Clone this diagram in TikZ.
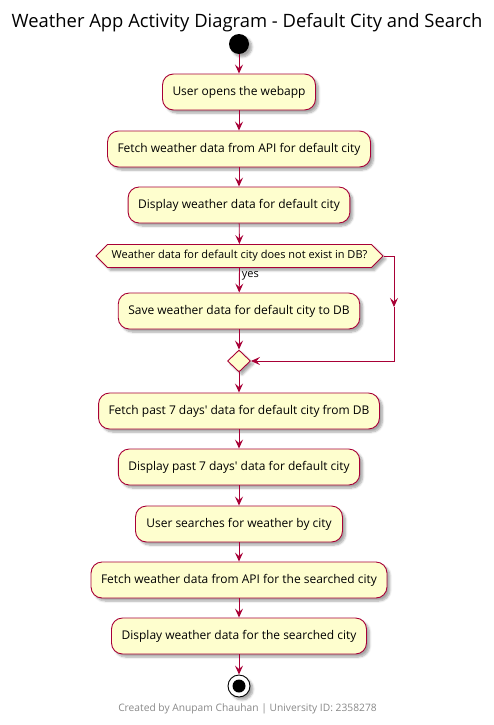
\documentclass[tikz,border=0pt]{standalone}
\usepackage{fontspec}
\setmainfont{Open Sans}[Ligatures=TeXOff]
\usetikzlibrary{arrows.meta,shapes.geometric,shapes.symbols,shadows.blur}
\definecolor{pborder}{HTML}{A80036}
\definecolor{pfill}{HTML}{FEFECE}
\definecolor{pfoot}{HTML}{888888}
\tikzset{
  shad/.style={blur shadow={shadow xshift=3pt,shadow yshift=-3pt,shadow blur steps=6,shadow opacity=35}},
  act/.style={draw=pborder,fill=pfill,line width=0.9pt,rounded corners=11pt,minimum height=36pt,inner xsep=10pt,font=\fontsize{12}{14}\selectfont,shad},
  flow/.style={draw=pborder,line width=0.9pt,-{Stealth[length=9pt,width=8pt,inset=3.5pt]}},
  dec/.style={shape=signal,signal to=east and west,signal pointer angle=90,draw=pborder,fill=pfill,line width=0.9pt,minimum height=23pt,inner xsep=2pt,inner ysep=3pt,font=\fontsize{11}{13}\selectfont,shad},
  merge/.style={diamond,draw=pborder,fill=pfill,line width=0.9pt,minimum width=23pt,minimum height=22pt,inner sep=0pt,shad},
}
\begin{document}
\begin{tikzpicture}[x=1pt,y=-1pt]
\useasboundingbox (0,0) rectangle (494,725);
\node[font=\fontsize{18.4}{21}\selectfont] (title) at (247,23) {Weather App Activity Diagram - Default City and Search};
\node[circle,fill=black,minimum size=20pt,inner sep=0pt,shad] (start) at (239,44) {};
\node[act,minimum width=152pt] (a1) at (239,92) {User opens the webapp};
\node[act,minimum width=261pt] (a2) at (239,149) {Fetch weather data from API for default city};
\node[act,minimum width=221pt] (a3) at (239,205) {Display weather data for default city};
\node[dec,minimum width=287pt] (d) at (239.5,256) {Weather data for default city does not exist in DB?};
\node[act,minimum width=240pt] (a4) at (239,311) {Save weather data for default city to DB};
\node[merge] (m) at (239,361) {};
\node[act,minimum width=280pt] (a5) at (239,411) {Fetch past 7 days' data for default city from DB};
\node[act,minimum width=240pt] (a6) at (239,467) {Display past 7 days' data for default city};
\node[act,minimum width=207pt] (a7) at (239,524) {User searches for weather by city};
\node[act,minimum width=295pt] (a8) at (239,580) {Fetch weather data from API for the searched city};
\node[act,minimum width=255pt] (a9) at (239,636) {Display weather data for the searched city};
\node[circle,draw=black,fill=white,line width=0.9pt,minimum size=22pt,inner sep=0pt,shad] (end) at (239,686) {};
\fill[black] (end.center) circle (6.5pt);
\node[text=pfoot,font=\fontsize{10.25}{12}\selectfont] (foot) at (247.5,709) {Created by Anupam Chauhan | University ID: 2358278};
\coordinate (rt) at (394,256);
\coordinate (rm) at (394,307);
\coordinate (rb) at (394,361);
\draw[flow] (start) -- (a1);
\draw[flow] (a1) -- (a2);
\draw[flow] (a2) -- (a3);
\draw[flow] (a3) -- (d);
\draw[flow] (d.south) -- node[right,pos=0.3,font=\fontsize{11}{13}\selectfont,inner sep=2pt]{yes} (a4);
\draw[flow] (a4) -- (m.north);
\draw[flow] (d.east) -- (rt) -- (rm);
\draw[flow] (rm) -- (rb) -- (m.east);
\draw[flow] (m.south) -- (a5);
\draw[flow] (a5) -- (a6);
\draw[flow] (a6) -- (a7);
\draw[flow] (a7) -- (a8);
\draw[flow] (a8) -- (a9);
\draw[flow] (a9) -- (end);
\end{tikzpicture}
\end{document}
